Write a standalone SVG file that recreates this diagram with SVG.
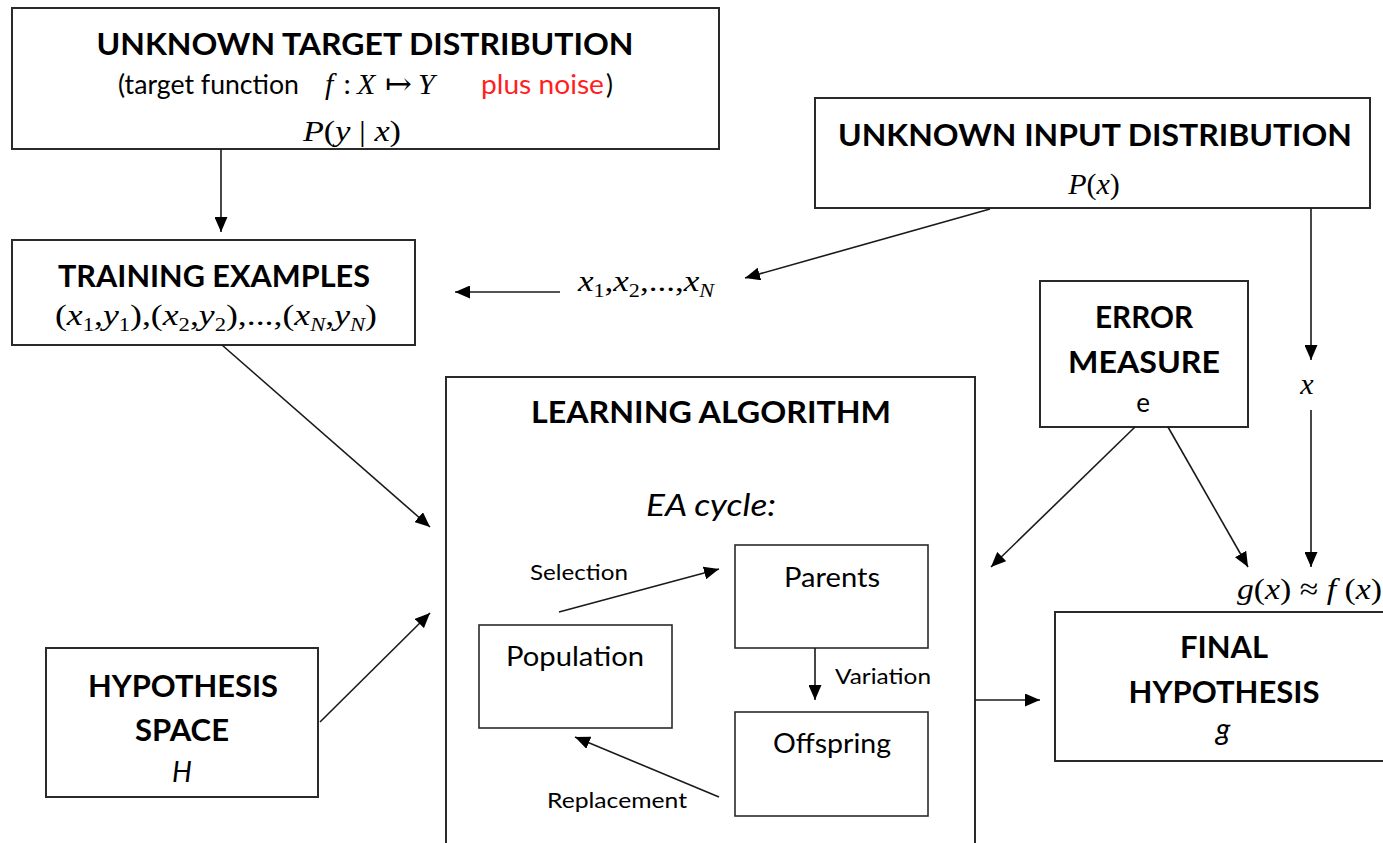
<svg xmlns="http://www.w3.org/2000/svg" width="1383" height="843" viewBox="0 0 1383 843">
  <style>
    .box { fill: #ffffff; stroke: #2a2a2a; stroke-width: 2; }
    .inner { stroke-width: 1.6; }
    .title { font-family: Lato, "Open Sans", sans-serif; font-weight: bold; font-size: 30px; fill: #000; text-anchor: middle; }
    .sans { font-family: Lato, "Open Sans", sans-serif; font-size: 26px; fill: #000; }
    .small { font-family: Lato, "Open Sans", sans-serif; font-size: 22px; fill: #000; }
    .math { font-family: "Liberation Serif", "DejaVu Serif", serif; font-size: 30px; fill: #000; }
    .it { font-style: italic; }
    .sub { font-size: 19px; }
    .red { fill: #ff1f1f; }
    .edge { stroke: #1a1a1a; stroke-width: 1.6; fill: none; marker-end: url(#head); }
  </style>
  <defs>
    <marker id="head" markerUnits="userSpaceOnUse" markerWidth="15" markerHeight="13" refX="15" refY="6.5" orient="auto">
      <path d="M0,0 L15,6.5 L0,13 z" fill="#000"/>
    </marker>
  </defs>
  <rect width="1383" height="843" fill="#ffffff"/>

  <g id="target-distribution">
    <rect class="box" x="12" y="8" width="707" height="141"/>
    <text class="title" x="365" y="55" textLength="537" lengthAdjust="spacingAndGlyphs">UNKNOWN TARGET DISTRIBUTION</text>
    <text class="sans" x="118" y="94" textLength="181" lengthAdjust="spacingAndGlyphs">(target function</text>
    <text class="math" y="94"><tspan x="325" class="it">f</tspan><tspan x="343">:</tspan><tspan x="357" class="it">X</tspan><tspan x="418" class="it">Y</tspan></text>
    <text class="math" x="385" y="94" textLength="27" lengthAdjust="spacingAndGlyphs">↦</text>
    <text class="sans red" x="481" y="94" textLength="123" lengthAdjust="spacingAndGlyphs">plus noise</text>
    <text class="sans" x="606" y="94">)</text>
    <text class="math" x="303" y="141" textLength="98" lengthAdjust="spacingAndGlyphs"><tspan class="it">P</tspan>(<tspan class="it">y</tspan> | <tspan class="it">x</tspan>)</text>
  </g>

  <g id="input-distribution">
    <rect class="box" x="815" y="98" width="555" height="110"/>
    <text class="title" x="1095" y="146" textLength="514" lengthAdjust="spacingAndGlyphs">UNKNOWN INPUT DISTRIBUTION</text>
    <text class="math" x="1094" y="194" text-anchor="middle"><tspan class="it">P</tspan>(<tspan class="it">x</tspan>)</text>
  </g>

  <g id="training-examples">
    <rect class="box" x="12" y="240" width="403" height="105"/>
    <text class="title" x="214" y="287" textLength="312" lengthAdjust="spacingAndGlyphs">TRAINING EXAMPLES</text>
    <text class="math" x="55" y="325" textLength="322" lengthAdjust="spacingAndGlyphs">(<tspan class="it">x</tspan><tspan class="sub" dy="6">1</tspan><tspan dy="-6">,</tspan><tspan class="it">y</tspan><tspan class="sub" dy="6">1</tspan><tspan dy="-6">),(</tspan><tspan class="it">x</tspan><tspan class="sub" dy="6">2</tspan><tspan dy="-6">,</tspan><tspan class="it">y</tspan><tspan class="sub" dy="6">2</tspan><tspan dy="-6">),...,(</tspan><tspan class="it">x</tspan><tspan class="sub it" dy="6">N</tspan><tspan dy="-6">,</tspan><tspan class="it">y</tspan><tspan class="sub it" dy="6">N</tspan><tspan dy="-6">)</tspan></text>
  </g>

  <g id="error-measure">
    <rect class="box" x="1040" y="281" width="208" height="146"/>
    <text class="title" x="1144" y="328" textLength="98" lengthAdjust="spacingAndGlyphs">ERROR</text>
    <text class="title" x="1144" y="373" textLength="152" lengthAdjust="spacingAndGlyphs">MEASURE</text>
    <text class="sans" x="1143" y="412" text-anchor="middle">e</text>
  </g>

  <g id="learning-algorithm">
    <rect class="box" x="446" y="377" width="529" height="475"/>
    <text class="title" x="711" y="423" textLength="360" lengthAdjust="spacingAndGlyphs">LEARNING ALGORITHM</text>
    <text class="sans it" x="711" y="516" style="font-size:30px" text-anchor="middle" textLength="130" lengthAdjust="spacingAndGlyphs">EA cycle:</text>
    <text class="small" x="530" y="580" textLength="98" lengthAdjust="spacingAndGlyphs">Selection</text>
    <text class="small" x="835" y="684" textLength="96" lengthAdjust="spacingAndGlyphs">Variation</text>
    <text class="small" x="547" y="808" textLength="140" lengthAdjust="spacingAndGlyphs">Replacement</text>
  </g>

  <g id="parents">
    <rect class="box inner" x="735" y="545" width="193" height="103"/>
    <text class="sans" x="784" y="587" textLength="96" lengthAdjust="spacingAndGlyphs">Parents</text>
  </g>

  <g id="population">
    <rect class="box inner" x="479" y="625" width="193" height="103"/>
    <text class="sans" x="506" y="666" textLength="138" lengthAdjust="spacingAndGlyphs">Population</text>
  </g>

  <g id="offspring">
    <rect class="box inner" x="735" y="712" width="193" height="104"/>
    <text class="sans" x="773" y="753" textLength="118" lengthAdjust="spacingAndGlyphs">Offspring</text>
  </g>

  <g id="hypothesis-space">
    <rect class="box" x="46" y="648" width="272" height="149"/>
    <text class="title" x="183" y="697" textLength="190" lengthAdjust="spacingAndGlyphs">HYPOTHESIS</text>
    <text class="title" x="182" y="741" textLength="94" lengthAdjust="spacingAndGlyphs">SPACE</text>
    <text class="sans it" x="182" y="782" style="font-size:28px" text-anchor="middle">H</text>
  </g>

  <g id="final-hypothesis">
    <rect class="box" x="1055" y="612" width="340" height="149"/>
    <text class="title" x="1224" y="658" textLength="88" lengthAdjust="spacingAndGlyphs">FINAL</text>
    <text class="title" x="1224" y="703" textLength="191" lengthAdjust="spacingAndGlyphs">HYPOTHESIS</text>
    <text class="sans it" x="1223" y="740" style="font-size:30px" text-anchor="middle">g</text>
  </g>

  <!-- connectors, drawn last so the inner cycle arrows sit above the algorithm box -->
  <g id="connectors">
    <line class="edge" x1="221" y1="149" x2="221" y2="232"/>
    <line class="edge" x1="990" y1="209" x2="745" y2="278"/>
    <line class="edge" x1="560" y1="292" x2="455" y2="292"/>
    <line class="edge" x1="1311" y1="208" x2="1311" y2="360"/>
    <line class="edge" x1="1311" y1="410" x2="1311" y2="567"/>
    <line class="edge" x1="1135" y1="427" x2="991" y2="567"/>
    <line class="edge" x1="1168" y1="427" x2="1248" y2="567"/>
    <line class="edge" x1="222" y1="345" x2="430" y2="527"/>
    <line class="edge" x1="320" y1="722" x2="430" y2="613"/>
    <line class="edge" x1="975" y1="700" x2="1040" y2="700"/>
    <line class="edge" x1="559" y1="612" x2="719" y2="569"/>
    <line class="edge" x1="815" y1="648" x2="815" y2="700"/>
    <line class="edge" x1="719" y1="797" x2="575" y2="737"/>
  </g>

  <!-- labels placed along the connectors -->
  <g id="edge-labels">
    <text class="math" x="578" y="291" textLength="136" lengthAdjust="spacingAndGlyphs"><tspan class="it">x</tspan><tspan class="sub" dy="6">1</tspan><tspan dy="-6">,</tspan><tspan class="it">x</tspan><tspan class="sub" dy="6">2</tspan><tspan dy="-6">,...,</tspan><tspan class="it">x</tspan><tspan class="sub it" dy="6">N</tspan></text>
    <text class="math it" x="1307" y="394" text-anchor="middle">x</text>
    <text class="math" x="1237" y="599" textLength="145" lengthAdjust="spacingAndGlyphs"><tspan class="it">g</tspan>(<tspan class="it">x</tspan>) ≈ <tspan class="it">f</tspan> (<tspan class="it">x</tspan>)</text>
  </g>
</svg>
